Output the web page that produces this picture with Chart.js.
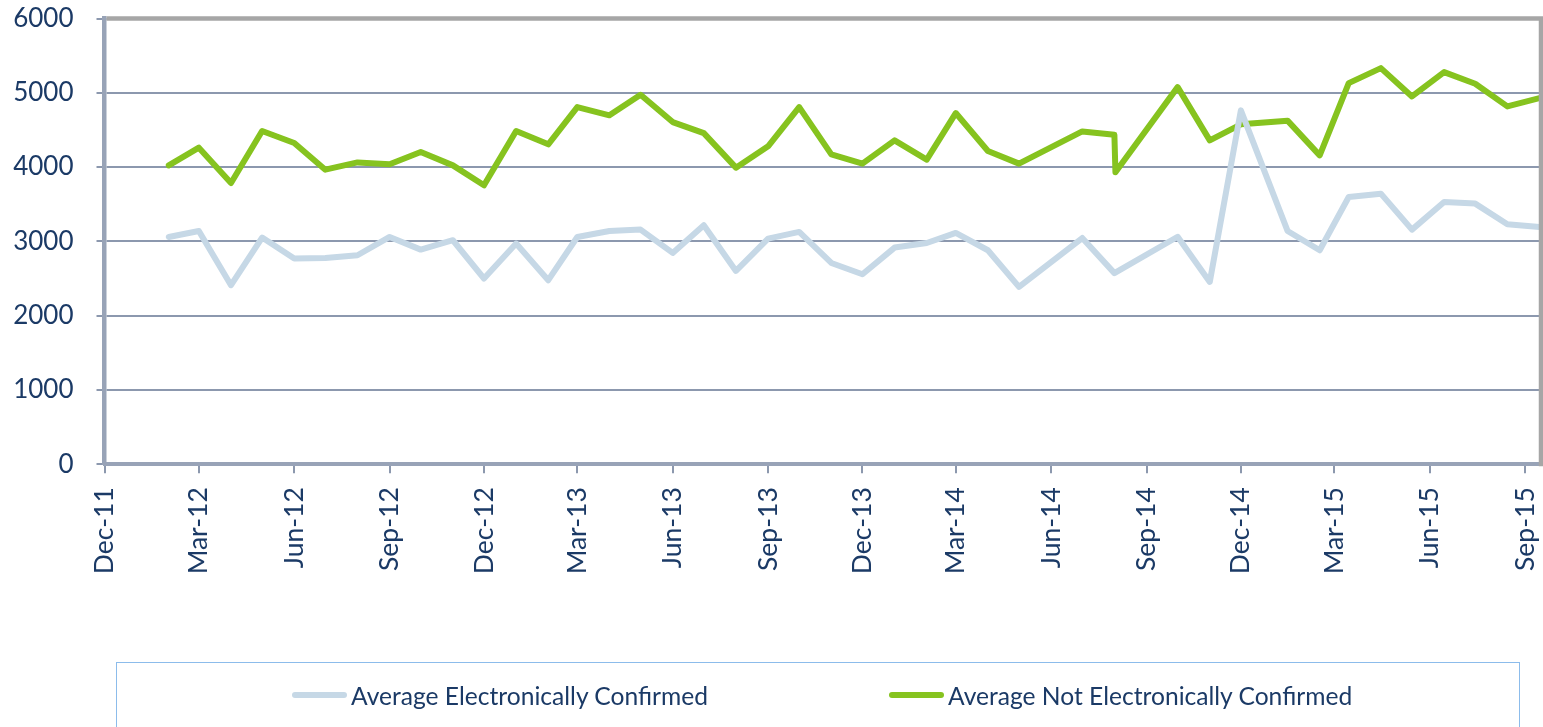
<!DOCTYPE html>
<html>
<head>
<meta charset="utf-8">
<script src="https://cdn.jsdelivr.net/npm/chart.js@4"></script>
<style>
  html, body { margin: 0; padding: 0; background: #ffffff; overflow: hidden; }
  #wrap { position: relative; width: 1543px; height: 727px; }
  #c { position: absolute; left: 0; top: 0; }
  #legend { position: absolute; left: 116px; top: 662px; width: 1404px; height: 90px;
            border: 1.5px solid #8CBCEB; box-sizing: border-box; font-family: Lato, "Open Sans", sans-serif; }
  .item { position: absolute; top: 17px; height: 30px; display: flex; align-items: center;
          color: #1B3A66; font-size: 24.6px; white-space: nowrap; }
  .swatch { width: 55px; height: 6.5px; border-radius: 3px; margin-right: 4px; }
</style>
</head>
<body>
<div id="wrap">
  <canvas id="c" width="1543" height="727"></canvas>
  <div id="legend"></div>
</div>
<script>
// ---- data ----
const dates = [
  "2012-02-01","2012-03-01","2012-04-01","2012-05-01","2012-06-01","2012-07-01","2012-08-01","2012-09-01","2012-10-01","2012-11-01","2012-12-01",
  "2013-01-01","2013-02-01","2013-03-01","2013-04-01","2013-05-01","2013-06-01","2013-07-01","2013-08-01","2013-09-01","2013-10-01","2013-11-01","2013-12-01",
  "2014-01-01","2014-02-01","2014-03-01","2014-04-01","2014-05-01",
  "2014-07-01","2014-08-01","2014-08-02","2014-10-01","2014-11-01","2014-12-01",
  "2015-01-15","2015-02-15","2015-03-15","2015-04-15","2015-05-15","2015-06-15","2015-07-15","2015-08-15","2015-09-15"
];
const electronicallyConfirmed = [
  3059,3140,2410,3051,2768,2777,2813,3059,2889,3015,2500,
  2970,2477,3059,3140,3158,2844,3216,2602,3037,3127,2709,2557,
  2916,2978,3113,2880,2387,
  3045,2572,null,3062,2454,4763,
  3140,2880,3597,3642,3158,3530,3508,3230,3194
];
const notElectronicallyConfirmed = [
  4023,4261,3786,4485,4324,3965,4063,4037,4202,4023,3754,
  4485,4306,4807,4696,4974,4606,4457,3992,4279,4807,4171,4046,
  4359,4100,4727,4216,4046,
  4480,4435,3930,5076,4359,4575,
  4625,4157,5130,5332,4951,5278,5122,4817,4929
];
const seriesLabels = ["Average Electronically Confirmed", "Average Not Electronically Confirmed"];
const tickDates = ["2011-12-01","2012-03-01","2012-06-01","2012-09-01","2012-12-01","2013-03-01","2013-06-01","2013-09-01",
                   "2013-12-01","2014-03-01","2014-06-01","2014-09-01","2014-12-01","2015-03-01","2015-06-01","2015-09-01"];
const tickLabels = ["Dec-11","Mar-12","Jun-12","Sep-12","Dec-12","Mar-13","Jun-13","Sep-13",
                    "Dec-13","Mar-14","Jun-14","Sep-14","Dec-14","Mar-15","Jun-15","Sep-15"];
const axisStart = "2011-12-01";
const axisEnd = "2015-09-15";
const yTicks = [0,1000,2000,3000,4000,5000,6000];

// ---- helpers ----
const DAY = 86400000;
const toDay = s => { const [y,m,d] = s.split("-").map(Number); return Date.UTC(y, m-1, d) / DAY; };
const tickValues = tickDates.map(toDay);
const labelFor = v => { const i = tickValues.indexOf(v); return i >= 0 ? tickLabels[i] : ""; };

const navy = "#1B3A66";
const gridColor = "#8C98AE";
const colors = ["#C6D8E6", "#86C31F"];

const mk = (vals) => dates.map((d, i) => ({ x: toDay(d), y: vals[i] }));

const frame = {
  id: "frame",
  afterDatasetsDraw(chart) {
    const { ctx, chartArea: a } = chart;
    ctx.save();
    ctx.strokeStyle = "#A6A6A6";
    ctx.lineWidth = 4.5;
    ctx.beginPath();
    ctx.moveTo(a.left + 2, a.top);
    ctx.lineTo(a.right + 3.5, a.top);
    ctx.moveTo(a.right + 1.5, a.top - 2);
    ctx.lineTo(a.right + 1.5, a.bottom + 2);
    ctx.stroke();
    ctx.restore();
  }
};

Chart.defaults.font.family = "Lato, 'Open Sans', sans-serif";
Chart.defaults.color = navy;

const lineStyle = { borderWidth: 6, pointRadius: 0, tension: 0, spanGaps: true, borderJoinStyle: "round", borderCapStyle: "round" };

const chart = new Chart(document.getElementById("c"), {
  type: "line",
  data: {
    datasets: [
      Object.assign({ label: seriesLabels[0], data: mk(electronicallyConfirmed), borderColor: colors[0], backgroundColor: colors[0] }, lineStyle),
      Object.assign({ label: seriesLabels[1], data: mk(notElectronicallyConfirmed), borderColor: colors[1], backgroundColor: colors[1] }, lineStyle)
    ]
  },
  options: {
    responsive: false,
    animation: false,
    devicePixelRatio: 1,
    layout: { padding: { top: 18.5, right: 3.5, left: 0, bottom: 0 } },
    plugins: { legend: { display: false }, tooltip: { enabled: false } },
    scales: {
      x: {
        type: "linear",
        min: toDay(axisStart),
        max: toDay(axisEnd),
        afterBuildTicks: axis => { axis.ticks = tickValues.map(v => ({ value: v })); },
        afterFit: s => { s.height = 262.8; s.paddingLeft = 0; s.paddingRight = 0; },
        grid: { drawOnChartArea: false, drawTicks: true, tickLength: 9, color: gridColor, lineWidth: 2 },
        border: { display: true, color: "#98A3B7", width: 4 },
        ticks: { autoSkip: false, minRotation: 90, maxRotation: 90, padding: 14,
                 font: { size: 26.5 }, color: navy, callback: v => labelFor(v) }
      },
      y: {
        min: 0, max: 6000,
        afterBuildTicks: axis => { axis.ticks = yTicks.map(v => ({ value: v })); },
        afterFit: s => { s.width = 104.5; s.paddingTop = 0; s.paddingBottom = 0; },
        grid: { color: gridColor, lineWidth: 2, tickLength: 8, drawTicks: true },
        border: { display: true, color: "#98A3B7", width: 4.5 },
        ticks: { padding: 23, font: { size: 26 }, color: navy, callback: v => String(v) }
      }
    }
  },
  plugins: [frame]
});

// HTML legend built from the chart's datasets
const legendPos = [175, 772];
const lg = document.getElementById("legend");
chart.data.datasets.forEach((ds, i) => {
  const it = document.createElement("div");
  it.className = "item";
  it.style.left = legendPos[i] + "px";
  const sw = document.createElement("span");
  sw.className = "swatch";
  sw.style.background = ds.borderColor;
  const tx = document.createElement("span");
  tx.textContent = ds.label;
  it.appendChild(sw); it.appendChild(tx);
  lg.appendChild(it);
});
</script>
</body>
</html>
